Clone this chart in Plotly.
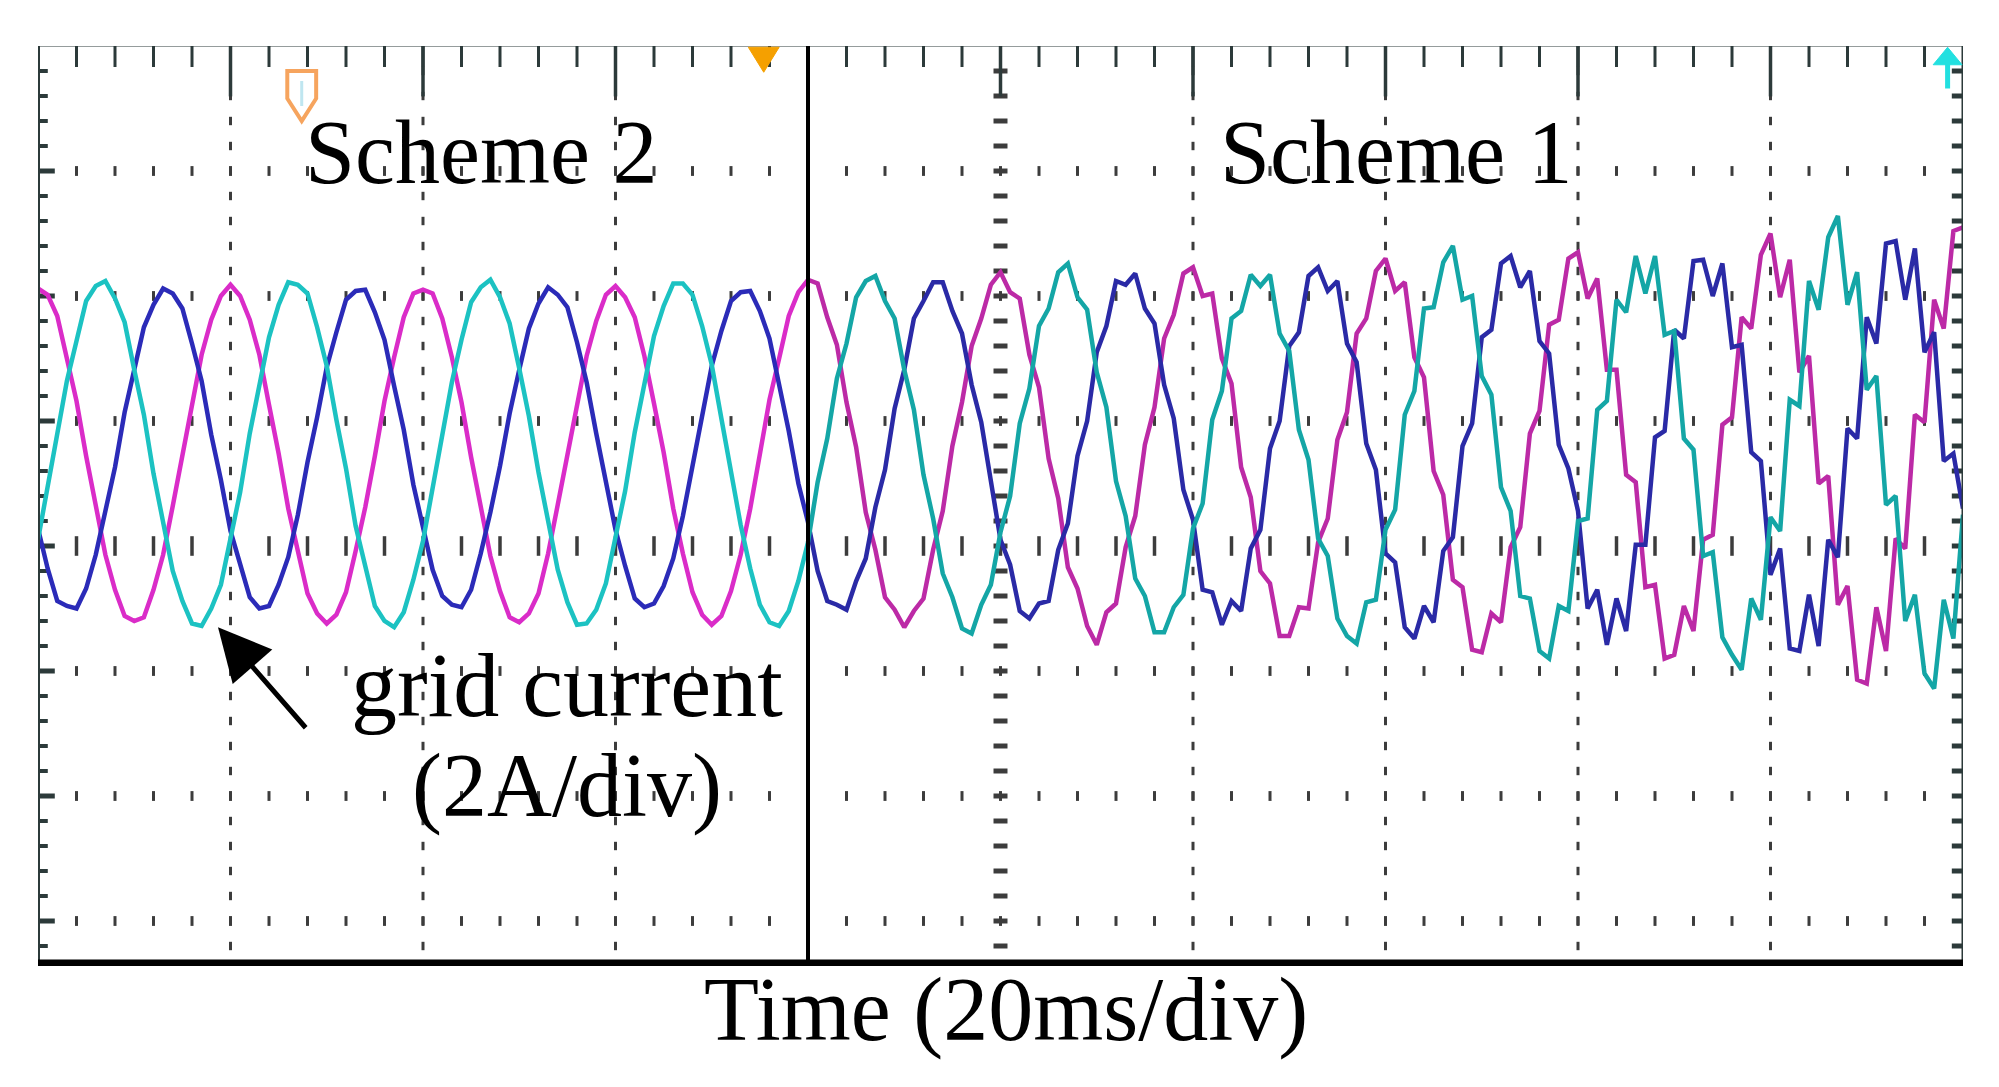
import numpy as np
import plotly.graph_objects as go

# ---------------- data (read from the oscilloscope screen) ----------------
# time axis: one sample per millisecond, 20 ms/div, 10 divisions
time_ms = list(range(0, 201))

# three-phase grid current, in screen divisions (2 A/div)
phase_magenta = [
    2.06, 2.01, 1.84, 1.50, 1.16, 0.72, 0.33, -0.07, -0.35, -0.56, -0.60, -0.57, -0.35, -0.07, 0.32, 0.74, 1.14, 1.53, 1.81, 2.00,
    2.09, 2.00, 1.81, 1.53, 1.13, 0.74, 0.30, -0.05, -0.38, -0.54, -0.62, -0.55, -0.37, -0.04, 0.31, 0.72, 1.16, 1.51, 1.83, 2.02,
    2.05, 2.02, 1.82, 1.51, 1.15, 0.71, 0.32, -0.08, -0.36, -0.57, -0.61, -0.54, -0.38, -0.06, 0.33, 0.73, 1.15, 1.52, 1.80, 2.01,
    2.08, 1.99, 1.83, 1.52, 1.14, 0.75, 0.30, -0.06, -0.37, -0.55, -0.63, -0.56, -0.36, -0.07, 0.30, 0.74, 1.17, 1.50, 1.84, 2.03,
    2.13, 2.10, 1.83, 1.61, 1.15, 0.79, 0.27, -0.03, -0.41, -0.51, -0.65, -0.52, -0.42, -0.03, 0.28, 0.80, 1.15, 1.60, 1.82, 2.09,
    2.19, 2.03, 1.98, 1.53, 1.27, 0.70, 0.38, -0.17, -0.34, -0.64, -0.79, -0.53, -0.46, -0.01, 0.24, 0.81, 1.11, 1.66, 1.85, 2.18,
    2.23, 2.00, 2.02, 1.50, 1.30, 0.63, 0.39, -0.20, -0.30, -0.72, -0.72, -0.49, -0.50, 0.03, 0.22, 0.85, 1.07, 1.70, 1.82, 2.20,
    2.30, 2.04, 2.11, 1.51, 1.35, 0.60, 0.41, -0.27, -0.33, -0.83, -0.85, -0.54, -0.61, -0.01, 0.15, 0.90, 1.08, 1.77, 1.81, 2.30,
    2.35, 1.98, 2.14, 1.41, 1.41, 0.57, 0.51, -0.33, -0.31, -0.90, -0.87, -0.48, -0.68, 0.05, 0.09, 0.97, 1.03, 1.83, 1.74, 2.33,
    2.50, 1.99, 2.29, 1.39, 1.52, 0.50, 0.56, -0.47, -0.32, -1.07, -1.10, -0.49, -0.84, 0.06, -0.02, 1.05, 0.99, 1.97, 1.74, 2.52,
    2.55,
]

phase_cyan = [
    0.05, 0.47, 0.87, 1.32, 1.64, 1.96, 2.08, 2.12, 1.98, 1.79, 1.41, 1.05, 0.58, 0.20, -0.20, -0.44, -0.62, -0.64, -0.50, -0.31,
    0.07, 0.43, 0.90, 1.28, 1.67, 1.93, 2.11, 2.09, 2.02, 1.75, 1.44, 1.01, 0.62, 0.16, -0.17, -0.48, -0.60, -0.65, -0.53, -0.27,
    0.04, 0.46, 0.88, 1.31, 1.65, 1.95, 2.07, 2.13, 1.99, 1.78, 1.42, 1.04, 0.59, 0.19, -0.19, -0.45, -0.63, -0.62, -0.51, -0.30,
    0.06, 0.44, 0.91, 1.29, 1.68, 1.92, 2.10, 2.10, 2.01, 1.76, 1.45, 1.02, 0.61, 0.17, -0.18, -0.47, -0.61, -0.64, -0.52, -0.28,
    0.03, 0.51, 0.86, 1.34, 1.62, 1.99, 2.12, 2.16, 1.96, 1.82, 1.41, 1.09, 0.57, 0.22, -0.22, -0.41, -0.66, -0.70, -0.47, -0.31,
    0.11, 0.40, 0.98, 1.26, 1.76, 1.90, 2.19, 2.26, 1.99, 1.89, 1.39, 1.11, 0.52, 0.24, -0.26, -0.40, -0.69, -0.69, -0.49, -0.39,
    0.14, 0.34, 1.01, 1.24, 1.82, 1.88, 2.17, 2.08, 2.17, 1.70, 1.56, 0.93, 0.69, 0.06, -0.08, -0.58, -0.72, -0.78, -0.45, -0.43,
    0.13, 0.29, 1.05, 1.24, 1.90, 1.91, 2.27, 2.40, 1.97, 2.00, 1.36, 1.21, 0.47, 0.28, -0.40, -0.42, -0.84, -0.90, -0.48, -0.52,
    0.20, 0.22, 1.09, 1.16, 1.97, 1.87, 2.32, 2.02, 2.32, 1.69, 1.72, 0.86, 0.77, -0.08, -0.05, -0.73, -0.87, -0.99, -0.42, -0.59,
    0.23, 0.12, 1.17, 1.12, 2.12, 1.89, 2.47, 2.64, 1.93, 2.19, 1.25, 1.36, 0.33, 0.40, -0.60, -0.39, -1.02, -1.14, -0.43, -0.74,
    0.25,
]

phase_blue = [
    0.14, -0.18, -0.44, -0.48, -0.50, -0.34, -0.07, 0.28, 0.63, 1.07, 1.40, 1.75, 1.93, 2.06, 2.02, 1.90, 1.62, 1.32, 0.89, 0.53,
    0.12, -0.15, -0.41, -0.50, -0.48, -0.31, -0.09, 0.25, 0.67, 1.03, 1.43, 1.71, 1.97, 2.04, 2.05, 1.87, 1.65, 1.28, 0.93, 0.49,
    0.15, -0.19, -0.40, -0.47, -0.49, -0.35, -0.06, 0.27, 0.64, 1.06, 1.41, 1.74, 1.94, 2.07, 2.01, 1.91, 1.63, 1.31, 0.90, 0.52,
    0.13, -0.16, -0.42, -0.49, -0.46, -0.32, -0.10, 0.24, 0.66, 1.04, 1.44, 1.72, 1.96, 2.03, 2.04, 1.88, 1.66, 1.29, 0.92, 0.50,
    0.19, -0.20, -0.44, -0.47, -0.51, -0.28, -0.10, 0.31, 0.61, 1.10, 1.41, 1.82, 1.96, 2.11, 2.11, 1.88, 1.70, 1.29, 0.99, 0.50,
    0.05, -0.15, -0.52, -0.58, -0.46, -0.44, -0.03, 0.18, 0.72, 1.00, 1.55, 1.76, 2.12, 2.09, 2.18, 1.90, 1.78, 1.29, 1.02, 0.45,
    0.21, -0.35, -0.37, -0.63, -0.44, -0.52, -0.02, 0.13, 0.78, 1.00, 1.60, 1.71, 2.16, 2.23, 2.04, 2.12, 1.62, 1.47, 0.82, 0.61,
    -0.06, -0.13, -0.65, -0.74, -0.48, -0.61, -0.04, 0.07, 0.80, 0.98, 1.67, 1.73, 2.26, 2.32, 2.07, 2.20, 1.64, 1.54, 0.81, 0.62,
    0.28, -0.50, -0.35, -0.79, -0.42, -0.68, 0.01, 0.01, 0.87, 0.92, 1.73, 1.66, 2.28, 2.29, 2.00, 2.26, 1.59, 1.61, 0.75, 0.68,
    -0.23, -0.02, -0.82, -0.84, -0.39, -0.80, 0.05, -0.09, 0.94, 0.86, 1.83, 1.62, 2.42, 2.44, 1.97, 2.38, 1.55, 1.71, 0.68, 0.74,
    0.30,
]

scheme_labels = ["Scheme 2", "Scheme 1"]
switch_time_ms = 80
x_title = "Time (20ms/div)"
signal_label = ["grid current", "(2A/div)"]

# ---------------- screen geometry (style) ----------------
T_MAX = 200
Y_TOP, Y_BOT = 4.0, -3.36
GRID_COL = "#3c3c3c"
FRAME_COL = "#2c3a3a"
SERIF = "Liberation Serif"

fig = go.Figure()


def dots(xs, ys, symbol, size, width, color=GRID_COL):
    fig.add_trace(go.Scatter(
        x=xs, y=ys, mode="markers", hoverinfo="skip", showlegend=False,
        marker=dict(symbol=symbol, size=size, color=color,
                    line=dict(width=width, color=color)),
    ))


minor_y = np.round(np.arange(-3.2, 3.81, 0.2), 2)
minor_x = np.arange(4, T_MAX, 4)
grid_t = [20, 40, 60, 120, 140, 160, 180]
grid_y = [3, 2, 1, -1, -2, -3]

# dotted vertical graticule lines
dots([t for t in grid_t for _ in minor_y], [y for _ in grid_t for y in minor_y], "line-ns", 6, 3)
# dotted horizontal graticule lines
dots([x for _ in grid_y for x in minor_x], [y for y in grid_y for _ in minor_x], "line-ns", 7, 3)
# centre axes
dots([100] * len(minor_y), list(minor_y), "line-ew", 10, 5)
dots(list(minor_x), [0] * len(minor_x), "line-ns", 14, 3.5)
# frame ticks (half clipped by plot area)
dots(list(minor_x), [Y_TOP] * len(minor_x), "line-ns", 30, 3, FRAME_COL)
dots(list(range(20, T_MAX, 20)), [Y_TOP] * 9, "line-ns", 72, 3.5, FRAME_COL)
dots([0] * len(minor_y), list(minor_y), "line-ew", 14, 4, FRAME_COL)
dots([0] * 7, [3, 2, 1, 0, -1, -2, -3], "line-ew", 24, 5, FRAME_COL)
dots([T_MAX] * len(minor_y), list(minor_y), "line-ew", 16, 5, FRAME_COL)

# waveforms (scheme 2 part is rendered brighter than the denser scheme 1 part)
k = switch_time_ms
for series, col_left, col_right in [
    (phase_magenta, "#DA2CC8", "#BC2AA6"),
    (phase_blue, "#2B2BB8", "#2A2AA6"),
    (phase_cyan, "#1CC2C2", "#14A6A6"),
]:
    fig.add_trace(go.Scatter(
        x=time_ms[:k + 1], y=series[:k + 1], mode="lines", hoverinfo="skip", showlegend=False,
        line=dict(color=col_left, width=4.5),
    ))
    fig.add_trace(go.Scatter(
        x=time_ms[k:], y=series[k:], mode="lines", hoverinfo="skip", showlegend=False,
        line=dict(color=col_right, width=4.5),
    ))

# frame and switching cursor
shapes = [
    dict(type="line", x0=0, x1=T_MAX, y0=Y_TOP + 0.02, y1=Y_TOP + 0.02, line=dict(color=FRAME_COL, width=6)),
    dict(type="line", x0=0, x1=0, y0=Y_BOT, y1=Y_TOP, line=dict(color=FRAME_COL, width=4)),
    dict(type="line", x0=T_MAX, x1=T_MAX, y0=Y_BOT, y1=Y_TOP, line=dict(color=FRAME_COL, width=3)),
    dict(type="line", x0=-0.6, x1=T_MAX, y0=Y_BOT + 0.02, y1=Y_BOT + 0.02, line=dict(color="black", width=8)),
    dict(type="line", x0=switch_time_ms, x1=switch_time_ms, y0=Y_BOT, y1=Y_TOP, line=dict(color="black", width=4)),
    # trigger-position marker (outlined)
    dict(type="path", path="M 25.9,3.80 L 28.9,3.80 L 28.9,3.58 L 27.4,3.40 L 25.9,3.58 Z",
         fillcolor="white", line=dict(color="#F6A45E", width=4)),
    dict(type="line", x0=27.4, x1=27.4, y0=3.72, y1=3.52, line=dict(color="#BFE6F0", width=3)),
    # solid orange trigger triangle
    dict(type="path", path="M 73.8,3.99 L 77.0,3.99 L 75.4,3.79 Z",
         fillcolor="#F5A000", line=dict(color="#F5A000", width=1)),
    # cyan channel arrow
    dict(type="path", path="M 196.9,3.85 L 199.9,3.85 L 198.4,3.99 Z",
         fillcolor="#22E0E0", line=dict(color="#22E0E0", width=1)),
    dict(type="line", x0=198.4, x1=198.4, y0=3.86, y1=3.66, line=dict(color="#22E0E0", width=5)),
]

big = dict(family=SERIF, size=90, color="black")
annotations = [
    dict(x=46.0, y=3.15, text=scheme_labels[0], showarrow=False, font=big, xanchor="center", yanchor="middle"),
    dict(x=141.1, y=3.15, text=scheme_labels[1], showarrow=False, font=big, xanchor="center", yanchor="middle"),
    dict(x=55.0, y=-1.11, text=signal_label[0], showarrow=False, font=dict(family=SERIF, size=92, color="black"),
         xanchor="center", yanchor="middle"),
    dict(x=55.0, y=-1.92, text=signal_label[1], showarrow=False, font=big, xanchor="center", yanchor="middle"),
    dict(x=100.6, xref="x", y=-0.0474, yref="paper", text=x_title, showarrow=False, font=big,
         xanchor="center", yanchor="middle"),
    dict(x=18.7, y=-0.65, ax=89, ay=102, text="", showarrow=True, arrowhead=2, arrowsize=2.1,
         arrowwidth=5, arrowcolor="black"),
]

# page body has an 8 px margin: size the figure so it fits the window exactly
fig.update_layout(
    width=1983, height=1071,
    margin=dict(l=30, r=28, t=38, b=113, pad=0),
    paper_bgcolor="white", plot_bgcolor="white",
    shapes=shapes, annotations=annotations,
    xaxis=dict(range=[0, T_MAX], visible=False, fixedrange=True),
    yaxis=dict(range=[Y_BOT, Y_TOP], visible=False, fixedrange=True),
    showlegend=False,
)

fig.write_html("out.html")
